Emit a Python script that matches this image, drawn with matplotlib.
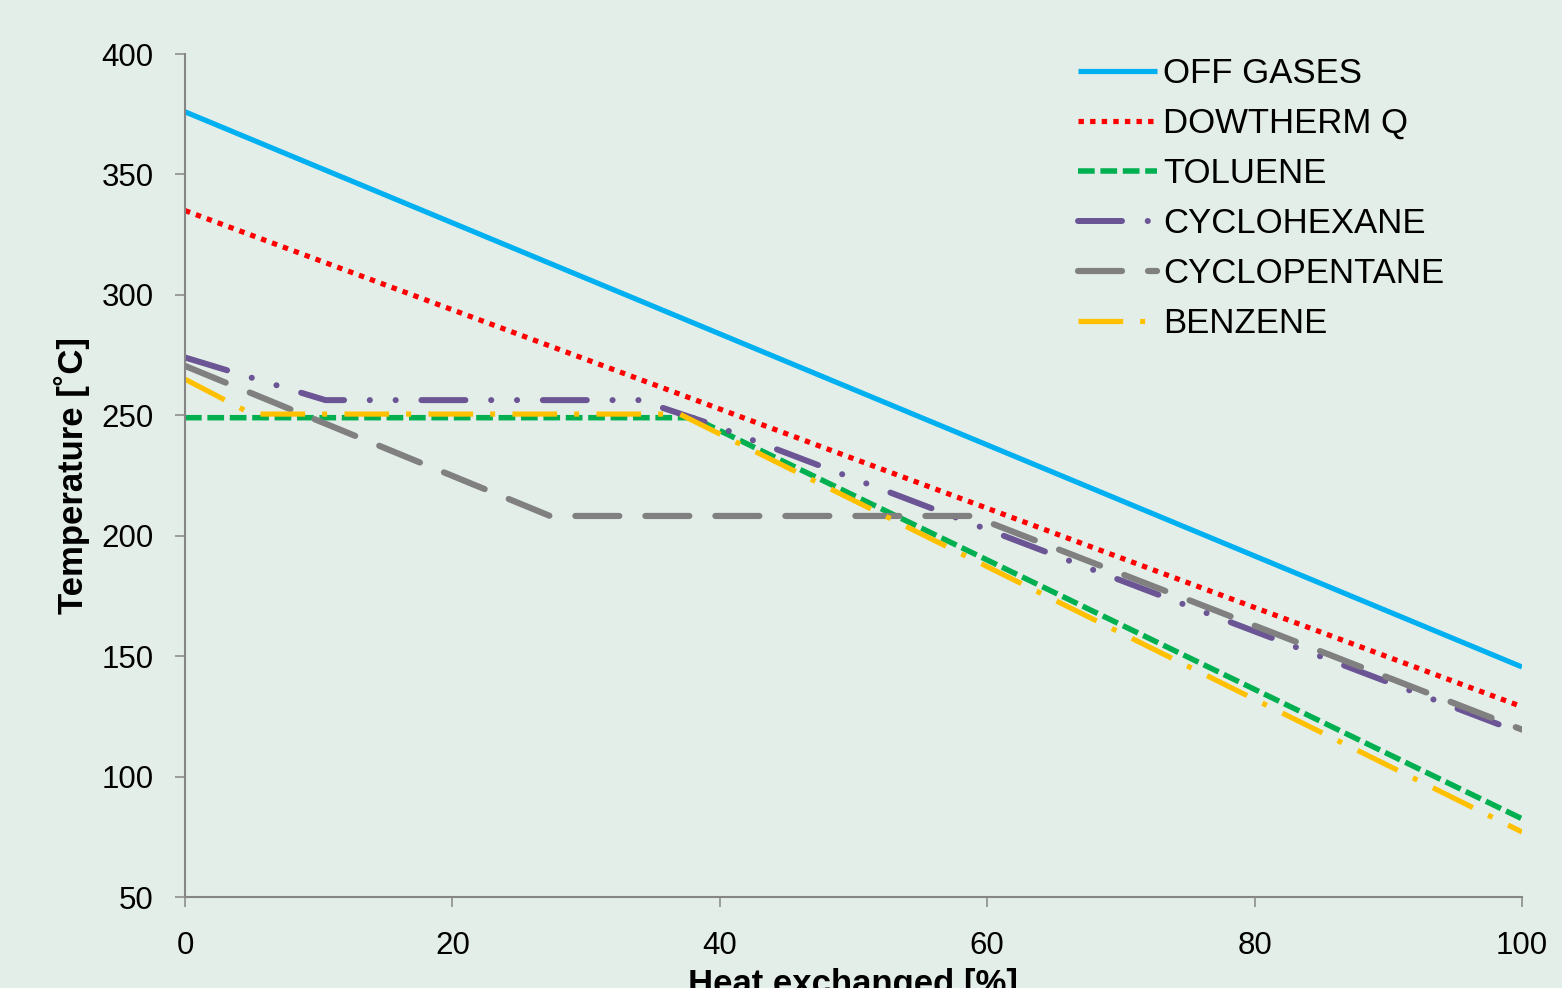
import matplotlib
matplotlib.use("Agg")
import matplotlib.pyplot as plt

plt.rcParams['font.family'] = ['Liberation Sans', 'DejaVu Sans']
plt.rcParams['lines.scale_dashes'] = False

# Data
offgas_x = [0, 100]
offgas_y = [376, 145.5]
dowtherm_x = [0, 100]
dowtherm_y = [335, 129]
toluene_x = [0, 38, 100]
toluene_y = [249, 249, 82.5]
cyclohexane_x = [0, 10.5, 34, 39, 100]
cyclohexane_y = [274, 256.3, 256.3, 247, 118]
cyclopentane_x = [0, 27.3, 58.9, 100]
cyclopentane_y = [270.5, 208.2, 208.2, 119.5]
benzene_x = [0, 5, 37, 100]
benzene_y = [265, 250.5, 250.5, 77]

labels = ["OFF GASES", "DOWTHERM Q", "TOLUENE", "CYCLOHEXANE", "CYCLOPENTANE", "BENZENE"]
xticks = [0, 20, 40, 60, 80, 100]
yticks = [50, 100, 150, 200, 250, 300, 350, 400]

bg = "#E4EEE8"
fig = plt.figure(figsize=(15.62, 9.88), dpi=100, facecolor=bg)
ax = fig.add_axes([185/1562, 1-897/988, (1522-185)/1562, (897-54)/988])
ax.set_facecolor(bg)

px = 0.72
ax.plot(offgas_x, offgas_y, color="#00B0F0", lw=5.2*px, solid_capstyle='butt', label=labels[0])
ax.plot(dowtherm_x, dowtherm_y, color="#FF0000", lw=5.2*px, dash_capstyle='butt',
        dashes=(5.4*px, 6.2*px), label=labels[1])
ax.plot(toluene_x, toluene_y, color="#00B050", lw=5.5*px, dash_capstyle='butt',
        dashes=(16.7*px, 5.7*px), label=labels[2])
ax.plot(cyclohexane_x, cyclohexane_y, color="#6B5594", lw=6*px, dash_capstyle='round',
        dashes=(44*px, 25.7*px, 0.1, 25.7*px, 0.1, 25.7*px), label=labels[3])
ax.plot(cyclopentane_x, cyclopentane_y, color="#808080", lw=6.2*px, dash_capstyle='round',
        dashes=(44*px, 26*px), label=labels[4])
ax.plot(benzene_x, benzene_y, color="#FFC000", lw=5.2*px, dash_capstyle='butt',
        dashes=(44.7*px, 17*px, 5*px, 17.3*px), label=labels[5])

ax.set_xlim(0, 100)
ax.set_ylim(50, 400)
ax.set_xticks(xticks)
ax.set_yticks(yticks)
for s in ['top', 'right']:
    ax.spines[s].set_visible(False)
for s in ['left', 'bottom']:
    ax.spines[s].set_color("#868686")
    ax.spines[s].set_linewidth(1.5)
ax.tick_params(axis='both', direction='out', length=7.5, width=1.1, color="#868686",
               labelsize=22.5, labelcolor='black')
ax.tick_params(axis='y', pad=15)
ax.tick_params(axis='x', pad=17)

ax.set_xlabel("Heat exchanged [%]", fontsize=25, fontweight='bold')
ax.xaxis.set_label_coords(0.5, -0.0842)
ax.set_ylabel("Temperature [˚C]", fontsize=25, fontweight='bold', va='center')
ax.yaxis.set_label_coords(-0.0845, 0.5)

leg = fig.legend(loc='upper left', bbox_to_anchor=(1078/1562, 1-57/988), frameon=False,
                 fontsize=25, handlelength=2.28, handletextpad=0.17, labelspacing=0.49,
                 borderpad=0, borderaxespad=0)

fig.savefig("out.png", dpi=100, facecolor=bg)
